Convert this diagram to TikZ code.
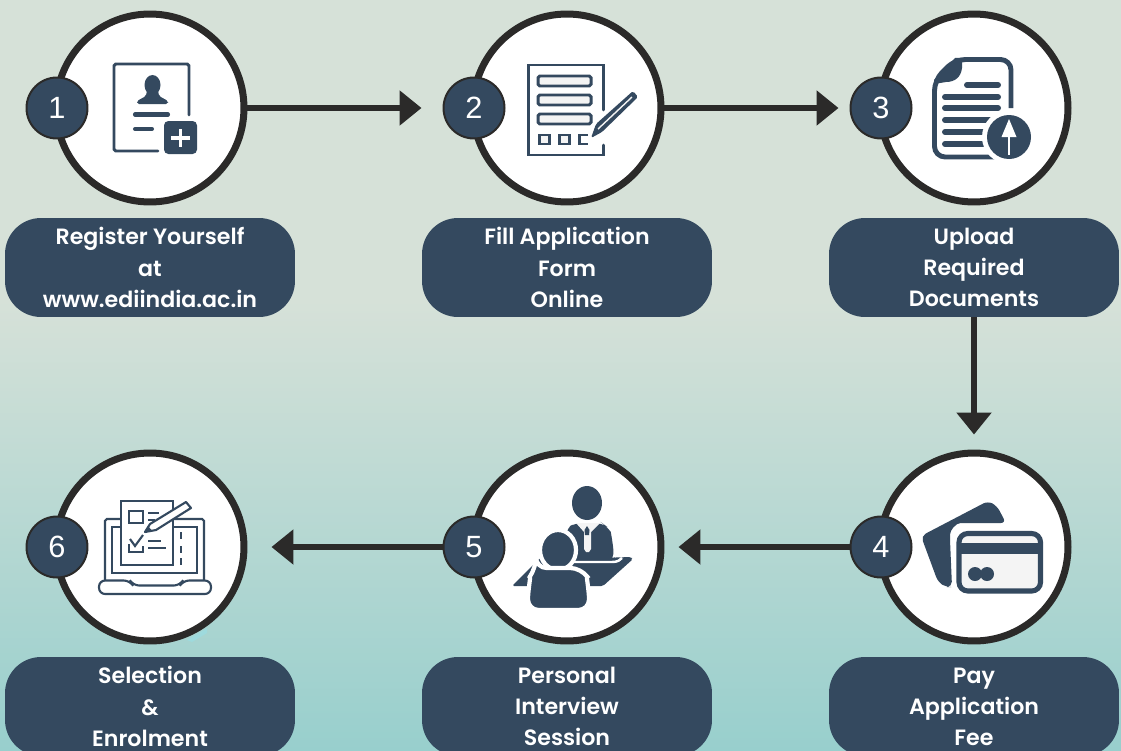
\documentclass[tikz,border=0pt]{standalone}
\usepackage{fontspec}
\setmainfont{Poppins SemiBold}
\newfontfamily\digitfont{Liberation Sans}
\usetikzlibrary{arrows.meta}
\definecolor{navy}{HTML}{34495F}
\definecolor{ink}{HTML}{2B2A29}
\definecolor{bgtop}{HTML}{D6E1D8}
\definecolor{bgbot}{HTML}{98CFCD}
\definecolor{paper}{HTML}{F4F4F4}
\definecolor{speck}{HTML}{9EDADD}
\tikzset{>={Triangle[length=.44cm,width=.68cm]}}
\tikzset{
    ringnode/.style={circle,draw=ink,fill=white,line width=.14cm,minimum size=3.76cm,inner sep=0pt},
    badgenode/.style={circle,draw=ink,fill=navy,text=white,line width=.04cm,minimum size=1.22cm,inner sep=0pt,font=\digitfont\fontsize{17.5}{17.5}\selectfont},
    pillnode/.style={rectangle,rounded corners=.72cm,fill=navy,text=white,minimum width=5.8cm,minimum height=1.98cm,inner sep=0pt,align=center,font=\fontsize{12.6}{17.7}\selectfont},
    flowline/.style={->,draw=ink,line width=.12cm},
    iconline/.style={draw=navy,line width=1.7pt},
    thinline/.style={draw=navy,line width=1.2pt},
}
\begin{document}
\begin{tikzpicture}[x=.02cm,y=-.02cm]
    \clip (0,0) rectangle (1121,750);
    \fill[bgtop] (0,0) rectangle (1121,300);
    \shade[top color=bgtop,bottom color=bgbot] (0,300) rectangle (1121,750);
    % speck behind ring 6
    \fill[speck] (187,640) -- (207,628) -- (207,633) -- (192,642) -- cycle;
    % rings, badges and pills
    \foreach \n/\x/\y in {1/150/108,2/567/108,3/974/108,4/974/547,5/567/547,6/150/547}
        \node[ringnode] (ring\n) at (\x,\y) {};
    \foreach \n/\x/\y in {1/57/108,2/474/108,3/881/108,4/881/547,5/474/547,6/57/547}
        \node[badgenode] (badge\n) at (\x,\y) {\n};
    \node[pillnode] (pill1) at (150,267.5) {Register Yourself\\at\\www.ediindia.ac.in};
    \node[pillnode] (pill2) at (567,267.5) {Fill Application\\Form\\Online};
    \node[pillnode] (pill3) at (974,267.5) {Upload\\Required\\Documents};
    \node[pillnode] (pill4) at (974,706.5) {Pay\\Application\\Fee};
    \node[pillnode] (pill5) at (567,706.5) {Personal\\Interview\\Session};
    \node[pillnode] (pill6) at (150,706.5) {Selection\\\&\\Enrolment};
    % connectors
    \draw[flowline,shorten >=.42cm] (ring1.east) -- (badge2.west);
    \draw[flowline,shorten >=.22cm] (ring2.east) -- (badge3.west);
    \draw[flowline,shorten >=.3cm] (pill3.south) -- (ring4.north);
    \draw[flowline,shorten >=.28cm] (badge4.west) -- (ring5.east);
    \draw[flowline,shorten >=.48cm] (badge5.west) -- (ring6.east);
    % icon 1, form with plus
    \draw[iconline,line cap=round,rounded corners=1pt] (158,151) -- (114,151) -- (114,64) -- (189,64) -- (189,115);
    \fill[navy] (152.5,85) ellipse [x radius=8,y radius=10];
    \fill[navy,rounded corners=1pt] (147,90) -- (158,90) -- (159,96) -- (168,101) -- (168,104) -- (137,104) -- (137,101) -- (146,96) -- cycle;
    \draw[navy,line width=2.3pt,line cap=round] (135,114.5) -- (168,114.5);
    \draw[navy,line width=2.3pt,line cap=round] (135,129) -- (152,129);
    \fill[navy,rounded corners=2.5pt] (164,121) rectangle (197,154);
    \draw[white,line width=2pt] (180.5,129) -- (180.5,147) (171,138) -- (190,138);
    % icon 2, form with pen
    \draw[iconline,line cap=round] (603,110) -- (603,65) -- (528,65) -- (528,155) -- (603,155) -- (603,145);
    \foreach \y in {76,95,114}
        \draw[iconline,fill=paper,rounded corners=1pt] (538,\y) rectangle (591,\y+10);
    \draw[iconline,fill=paper] (539,135) rectangle (549,144);
    \draw[iconline,fill=paper] (559,135) rectangle (569,144);
    \draw[iconline] (588,135) -- (579,135) -- (579,144) -- (588,144);
    \fill[navy,rounded corners=1pt] (591,138) -- (596,124) -- (633,91) -- (638,97) -- (602,132) -- cycle;
    \draw[paper,line width=.8pt] (598,129) -- (632,97);
    % icon 3, document with upload
    \draw[navy,line width=2.8pt,rounded corners=6pt] (1011,108) -- (1011,59.5) -- (955,59.5) -- (934.5,80) -- (934.5,157) -- (995,157);
    \fill[navy] (934,80) -- (955,58) -- (962,58) -- (962,68) .. controls (961,77) and (955,82) .. (946,82) -- (934,84) -- cycle;
    \foreach \a/\b/\y in {967/998/85,945/998/97,945/998/108,945/998/120,945/998/132,945/998/144}
        \draw[navy,line width=3.4pt,line cap=round] (\a,\y) -- (\b,\y);
    \fill[white] (1009,137) circle [radius=27];
    \fill[navy] (1009,137) circle [radius=22];
    \fill[white] (1009,119) -- (1016.5,137) -- (1001.5,137) -- cycle;
    \draw[white,line width=1.2pt] (1009,135) -- (1009,155);
    % icon 4, cards
    \fill[navy,rounded corners=3pt] (921,536) -- (988,501) -- (997,506) -- (1006,523) -- (966,523) .. controls (956,523) and (950,530) .. (950,540) -- (952,587) -- (946,587) -- (938,582) -- cycle;
    \draw[navy,line width=2.9pt,fill=paper,rounded corners=5pt] (959,533.5) rectangle (1040.5,591);
    \fill[navy] (959,543) rectangle (1040.5,553.5);
    \fill[navy] (975,574) circle [radius=7] (987,574) circle [radius=7];
    % icon 5, interview
    \fill[navy,rounded corners=1pt] (512,586) -- (540,558) -- (600,558) -- (631,557) -- (633,559) -- (603,586) -- cycle;
    \fill[navy,rounded corners=4pt] (566,528) -- (576,523) -- (602,523) -- (606,526) .. controls (611,532) and (613,545) .. (614,558) -- (610,562) -- (570,562) -- cycle;
    \draw[white,line width=1.4pt] (570,562) -- (612,562) .. controls (618,562) and (620,560) .. (622,558);
    \fill[paper] (576,523) -- (600,523) -- (591,532) -- (591,549) -- (589,552) -- (586,552) -- (584,549) -- (584,532) -- cycle;
    \fill[navy] (587,526) -- (589.5,530) -- (589,535) -- (585,535) -- (584.5,530) -- cycle;
    \fill[navy] (587,503) ellipse [x radius=15,y radius=17];
    \draw[white,fill=navy,line width=2.4pt] (558,550) ellipse [x radius=18,y radius=20];
    \draw[white,fill=navy,line width=2.4pt,rounded corners=6pt] (536,568) -- (581,568) .. controls (586,575) and (589,590) .. (589,610) -- (528,610) .. controls (528,590) and (531,575) .. (536,568) -- cycle;
    % icon 6, laptop with checklist
    \draw[thinline,rounded corners=1pt] (105,580) -- (105,519) -- (204,519) -- (204,580);
    \draw[thinline] (112,527) rectangle (197,573);
    \draw[thinline,fill=white,rounded corners=3.5pt] (130,580.5) -- (99,580.5) -- (99,594) -- (211,594) -- (211,580.5) -- (183,580.5) -- (180,585.5) -- (133,585.5) -- cycle;
    \draw[thinline,fill=white] (121,501) rectangle (173,565);
    \draw[thinline] (129,511) rectangle (143,523);
    \draw[thinline] (148,513) -- (159,513) (148,520) -- (155,520) (148,541) -- (161,541) (148,548) -- (166,548);
    \draw[thinline] (143,546) -- (143,552) -- (129,552) -- (129,544);
    \draw[thinline,fill=white] (130,539) -- (135,546) -- (143,535);
    \draw[navy,line width=1.4pt] (181,532) -- (181,539) (181,546) -- (181,553) (181,558) -- (181,565);
    \draw[thinline,fill=white,line join=round] (145,532) -- (150,524) -- (186,502) -- (191,508) -- (156,530) -- cycle;
    \fill[navy] (145,532) -- (148,526) -- (152,530.5) -- cycle;
\end{tikzpicture}
\end{document}
